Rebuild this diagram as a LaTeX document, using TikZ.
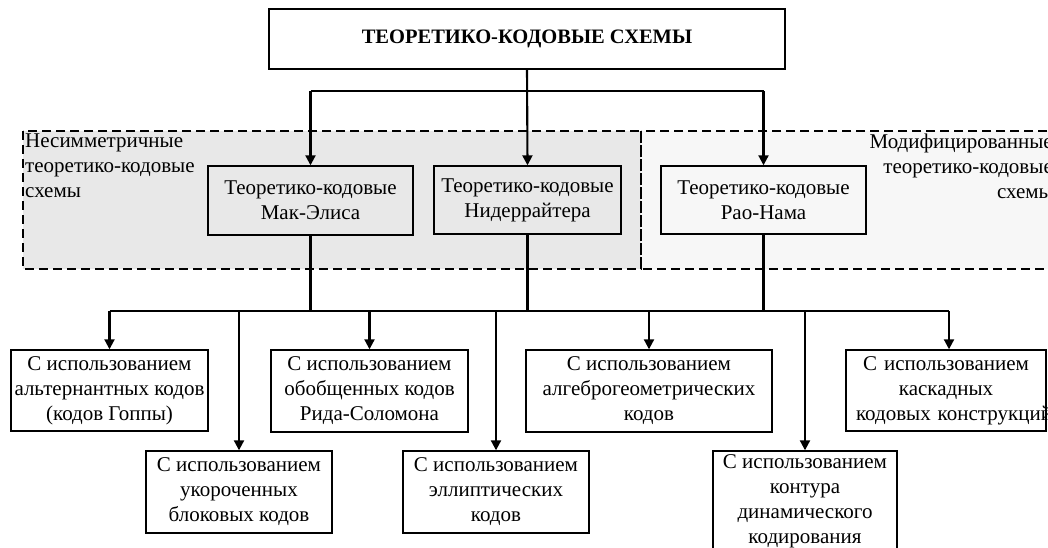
\documentclass[tikz,border=0pt]{standalone}
\usepackage{fontspec}
\setmainfont{Liberation Serif}
\usetikzlibrary{arrows.meta}
\definecolor{grpA}{RGB}{232,232,232}
\definecolor{grpB}{RGB}{247,247,247}
\begin{document}
\begin{tikzpicture}[x=1pt,y=-1pt,
  every node/.style={font=\fontsize{21}{25}\selectfont},
  box/.style={draw,line width=1.4pt,inner sep=0pt,align=center},
  conn/.style={line width=2.1pt},
  arr/.style={line width=2.1pt,-{Triangle[length=10pt,width=10pt]}},
  grp/.style={dashed,dash pattern=on 9pt off 5pt,line width=1.3pt},
  lbl/.style={inner sep=0pt}]
\useasboundingbox (0,0) rectangle (1048,548);
\fill[white] (0,0) rectangle (1048,548);
% groups
\fill[grpA] (23,131) rectangle (641,269);
\fill[grpB] (641,131) rectangle (1070,269);
\draw[grp] (23,131) rectangle (641,269);
\draw[grp] (641,131) rectangle (1070,269);
\node[lbl,anchor=north west,align=left] (lblA) at (25,134) {Несимметричные\\теоретико-кодовые\\схемы};
\node[lbl,anchor=north east,align=right] (lblB) at (1053,134) {Модифицированные\\теоретико-кодовые\\схемы};
% top
\node[box,fill=white,minimum width=516pt,minimum height=60pt,font=\fontsize{20.5}{24}\selectfont\bfseries] (top) at (527,39) {ТЕОРЕТИКО-КОДОВЫЕ СХЕМЫ};
% second level
\node[box,fill=grpA,minimum width=205pt,minimum height=69pt] (me) at (310.5,200.5) {Теоретико-кодовые\\Мак-Элиса};
\node[box,fill=grpA,minimum width=187pt,minimum height=68pt] (ni) at (527.5,200) {Теоретико-кодовые\\Нидеррайтера};
\node[box,fill=grpB,minimum width=205pt,minimum height=68pt] (rn) at (763.5,200) {Теоретико-кодовые\\Рао-Нама};
% third level
\node[box,minimum width=197pt,minimum height=81pt] (b1) at (109.5,390.5) {С использованием\\альтернантных кодов\\(кодов Гоппы)};
\node[box,minimum width=197pt,minimum height=82pt] (b3) at (369.5,391) {С использованием\\обобщенных кодов\\Рида-Соломона};
\node[box,minimum width=246pt,minimum height=82pt] (b5) at (649,391) {С использованием\\алгеброгеометрических\\кодов};
\node[box,minimum width=200pt,minimum height=81pt] (b7) at (946,390.5) {};
\node[lbl,align=center,text width=180pt] (b7t) at (b7.center) {С использованием\\каскадных\\кодовых~конструкций};
\node[box,minimum width=186pt,minimum height=82pt] (b2) at (239,492) {С использованием\\укороченных\\блоковых кодов};
\node[box,minimum width=186pt,minimum height=82pt] (b4) at (496,492) {С использованием\\эллиптических\\кодов};
\node[box,minimum width=184pt,minimum height=101pt] (b6) at (805,501.5) {С использованием\\контура\\динамического\\кодирования};
% top connectors
\coordinate (split) at (527,91);
\draw[conn] (me.north |- split) -- (rn.north |- split);
\draw[arr] (top.south) -- (ni.north);
\draw[arr] (me.north |- split) -- (me.north);
\draw[arr] (rn.north |- split) -- (rn.north);
% bus
\coordinate (bus) at (527,311);
\draw[conn] (b1.north |- bus) -- ([xshift=3pt]b7.north |- bus);
\draw[conn] (me.south) -- (me.south |- bus);
\draw[conn] (ni.south) -- (ni.south |- bus);
\draw[conn] (rn.south) -- (rn.south |- bus);
\foreach \n in {b1,b2,b3,b4,b5,b6}{
  \draw[arr] (\n.north |- bus) -- (\n.north);
}
\draw[arr] ([xshift=3pt]b7.north |- bus) -- ([xshift=3pt]b7.north);
\end{tikzpicture}
\end{document}
